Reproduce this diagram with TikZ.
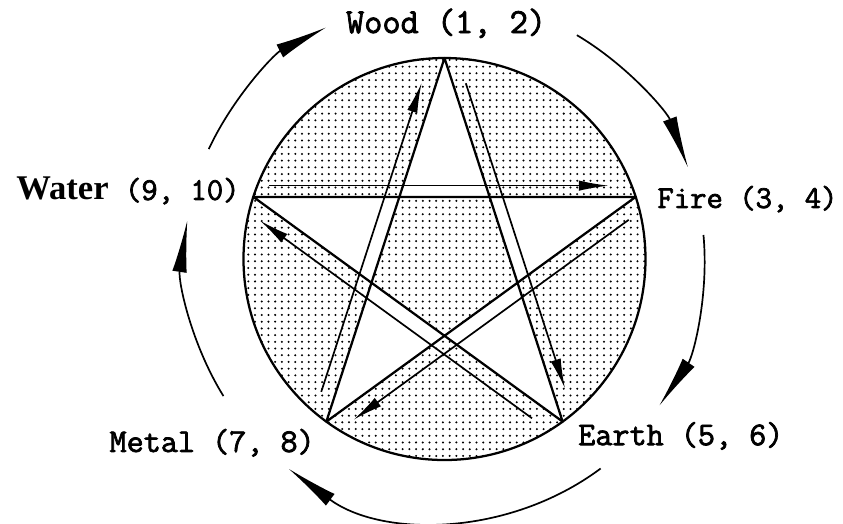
\documentclass[tikz,border=0pt]{standalone}
\usepackage{fontspec}
\newfontfamily\waterfont{Liberation Serif}
\newfontfamily\elemfont{Latin Modern Mono}[FakeBold=2.2]
\usetikzlibrary{arrows.meta,calc,patterns.meta}

\begin{document}
\begin{tikzpicture}[
    ring/.style={line width=1.6pt, line join=round},
    genarrow/.style={line width=1.2pt, -{Latex[length=1.3cm, width=0.36cm]}},
    ctlarrow/.style={line width=1.2pt, -{Latex[length=0.75cm, width=0.26cm]}},
    lbl/.style={font=\fontsize{23.5}{26}\selectfont\elemfont, inner sep=0pt}
  ]
    \useasboundingbox (-11.057,-6.567) rectangle (9.913,6.443);

    \coordinate (wood) at (90:5);
    \coordinate (fire) at (18:5);
    \coordinate (earth) at (-54:5);
    \coordinate (metal) at (-126:5);
    \coordinate (water) at (162:5);

    % dotted disc, star points left blank
    \fill[pattern={Dots[distance=4.75pt, radius=0.8pt]}, even odd rule]
      (0,0) circle[radius=5]
      (wood) -- (earth) -- (water) -- (fire) -- (metal) -- cycle;
    \draw[ring] (0,0) circle[radius=5];
    \draw[ring] (wood) -- (earth) -- (water) -- (fire) -- (metal) -- cycle;

    % overcoming cycle
    \draw[ctlarrow] ($(wood)!0.08!(earth)!0.31cm!90:(earth)$)
      -- ($(wood)!0.92!(earth)!0.31cm!90:(earth)$);
    \draw[ctlarrow] ($(earth)!0.07!(water)!0.38cm!90:(water)$)
      -- ($(earth)!0.95!(water)!0.38cm!90:(water)$);
    \draw[ctlarrow] ($(water)!0.04!(fire)!0.28cm!90:(fire)$)
      -- ($(water)!0.93!(fire)!0.28cm!90:(fire)$);
    \draw[ctlarrow] ($(fire)!0.05!(metal)!0.36cm!90:(metal)$)
      -- ($(fire)!0.94!(metal)!0.36cm!90:(metal)$);
    \draw[ctlarrow] ($(metal)!0.07!(wood)!0.35cm!90:(wood)$)
      -- ($(metal)!0.92!(wood)!0.35cm!90:(wood)$);

    % labels
    \node[lbl, font=\fontsize{25}{28}\selectfont\elemfont, anchor=base]
      (woodlbl) at (0.04,5.62) {Wood (1, 2)};
    \node[lbl, font=\fontsize{22.5}{26}\selectfont\elemfont, anchor=base west]
      (firelbl) at (5.29,1.27) {Fire (3, 4)};
    \node[lbl, anchor=base west] (earthlbl) at (3.32,-4.63) {Earth (5, 6)};
    \node[lbl, anchor=base east] (metallbl) at (-3.22,-4.80) {Metal (7, 8)};
    \node[lbl, font=\fontsize{22.5}{26}\selectfont\elemfont, anchor=base east]
      (waterlbl) at (-5.09,1.47) {{\fontsize{24.5}{26}\selectfont\waterfont\bfseries Water} (9, 10)};

    % generating cycle
    \draw[genarrow] (155:6.47) arc[start angle=155, end angle=117, radius=6.47];
    \draw[genarrow] (59.4:6.47) arc[start angle=59.4, end angle=20.5, radius=6.47];
    \draw[genarrow] (5.3:6.47) arc[start angle=5.3, end angle=-34.4, radius=6.47];
    \draw[genarrow] (-53.3:6.5) arc[start angle=-53.3, end angle=-126.7, radius=6.5];
    \draw[genarrow] (211.8:6.47) arc[start angle=211.8, end angle=171.4, radius=6.47];
\end{tikzpicture}
\end{document}
